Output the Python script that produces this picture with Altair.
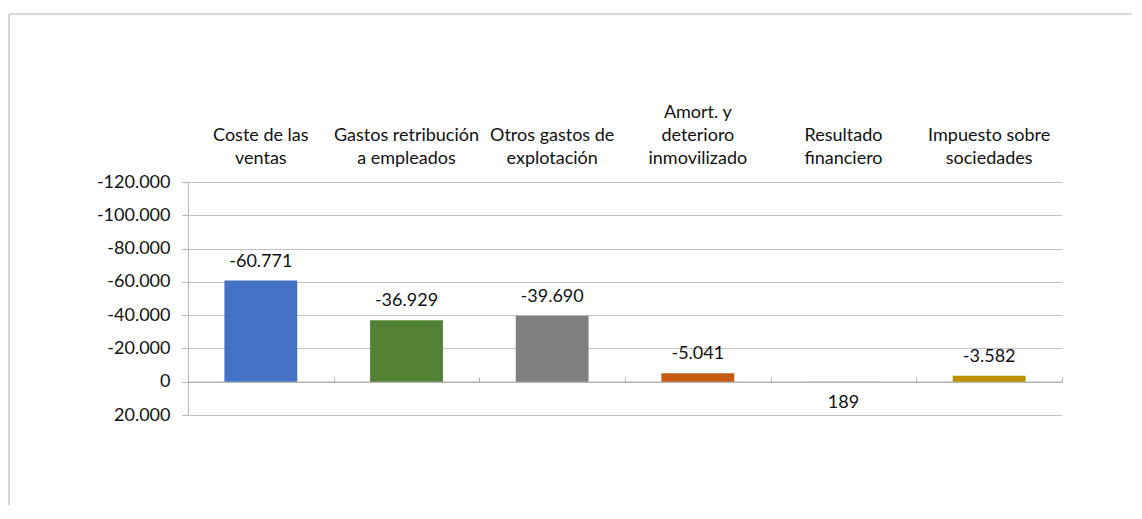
import json
import altair as alt
import pandas as pd

categories = [
    "Coste de las ventas",
    "Gastos retribución a empleados",
    "Otros gastos de explotación",
    "Amort. y deterioro inmovilizado",
    "Resultado financiero",
    "Impuesto sobre sociedades",
]
label_lines = [
    ["Coste de las", "ventas"],
    ["Gastos retribución", "a empleados"],
    ["Otros gastos de", "explotación"],
    ["Amort. y", "deterioro", "inmovilizado"],
    ["Resultado", "financiero"],
    ["Impuesto sobre", "sociedades"],
]
values = [-60771, -36929, -39690, -5041, 189, -3582]
colors = ["#4472C4", "#548235", "#7F7F7F", "#C55A11", "#8FAADC", "#BF9000"]
y_ticks = [-120000, -100000, -80000, -60000, -40000, -20000, 0, 20000]

labels = [f"{v:,}".replace(",", ".") for v in values]
df = pd.DataFrame({"cat": categories, "value": values, "label": labels})

FONT = "Lato"
GRID = "#c4c4c4"
AXIS = "#b4b4b4"
W, H = 874, 233
ymin, ymax = y_ticks[0], y_ticks[-1]
zero_offset = -H * (0 - ymin) / (ymax - ymin)

# bottom-align the wrapped category labels by padding them to the same line count
nmax = max(len(l) for l in label_lines)
padded = [[" "] * (nmax - len(l)) + l for l in label_lines]
mapping = json.dumps(dict(zip(categories, padded)), ensure_ascii=False)
y_label_expr = "replace(replace(format(datum.value, ',d'), ',', '.'), '\u2212', '-')"

yenc = alt.Y(
    "value:Q",
    scale=alt.Scale(domain=[ymin, ymax], reverse=True, nice=False, zero=False),
    axis=alt.Axis(
        values=y_ticks, title=None, grid=True, gridColor=GRID, domain=True,
        domainColor=AXIS, ticks=True, tickColor=AXIS, tickSize=6,
        labelPadding=12, labelFont=FONT, labelFontSize=18, labelColor="#111",
        labelExpr=y_label_expr,
    ),
)
xscale = alt.Scale(paddingInner=0, paddingOuter=0)

bars = alt.Chart(df).mark_bar(width=alt.RelativeBandSize(0.5)).encode(
    x=alt.X("cat:N", sort=categories, scale=xscale,
            axis=alt.Axis(orient="top", title=None, domain=False, ticks=False,
                          labelAngle=0, labelFont=FONT, labelFontSize=18,
                          labelColor="#111", labelPadding=61, labelLineHeight=23,
                          labelLimit=0, labelExpr=f"{mapping}[datum.value]")),
    y=yenc,
    color=alt.Color("cat:N", scale=alt.Scale(domain=categories, range=colors), legend=None),
)

txt_neg = alt.Chart(df).transform_filter("datum.value < 0").mark_text(
    dy=-19, font=FONT, fontSize=18, color="#111", baseline="middle"
).encode(
    x=alt.X("cat:N", sort=categories, scale=xscale, axis=None),
    y=yenc,
    text="label:N",
)
txt_pos = alt.Chart(df).transform_filter("datum.value >= 0").mark_text(
    dy=21, font=FONT, fontSize=18, color="#111", baseline="middle"
).encode(
    x=alt.X("cat:N", sort=categories, scale=xscale, axis=None),
    y=yenc,
    text="label:N",
)

zero_axis = alt.Chart(df).mark_point(opacity=0).encode(
    x=alt.X("cat:N", sort=categories, scale=xscale,
            axis=alt.Axis(orient="top", offset=zero_offset, title=None, labels=False,
                          grid=False, domain=True, domainColor=AXIS, domainWidth=1.5,
                          ticks=True, tickColor=AXIS, tickSize=5, tickBand="extent")),
    y=yenc,
)

frame_data = pd.DataFrame({"k": [0]})
frame_left = alt.Chart(frame_data).mark_rule(color="#b0b0b0", strokeWidth=1).encode(
    x=alt.value(-179), y=alt.value(-168), y2=alt.value(340)
)
frame_top = alt.Chart(frame_data).mark_rule(color="#b0b0b0", strokeWidth=1).encode(
    x=alt.value(-179), x2=alt.value(960), y=alt.value(-168)
)

chart = alt.layer(bars, txt_neg, txt_pos, zero_axis, frame_left, frame_top).resolve_axis(
    x="independent"
).properties(
    width=W, height=H,
    padding={"left": 180, "top": 174, "right": 70, "bottom": 90},
    autosize=alt.AutoSizeParams(type="none"),
).configure(
    view={"stroke": None},
    locale={"number": {"decimal": ",", "thousands": ".", "grouping": [3],
                        "currency": ["", " €"], "minus": "-"}},
)

chart.save("out.html", embed_options={"renderer": "svg", "actions": False})
